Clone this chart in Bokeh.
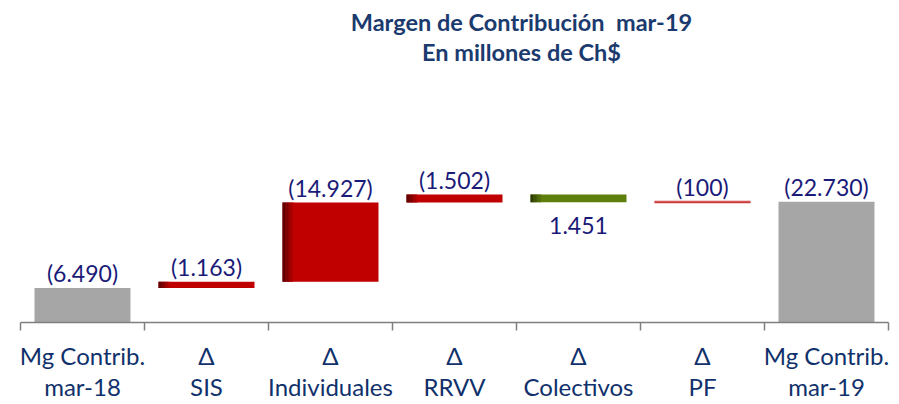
from bokeh.plotting import figure
from bokeh.models import Range1d, FixedTicker, ColumnDataSource
from bokeh.core.properties import value
from bokeh.embed import file_html
from bokeh.resources import INLINE

# ---- data ----
categories = ["Mg Contrib.\nmar-18", "Δ\nSIS", "Δ\nIndividuales", "Δ\nRRVV",
              "Δ\nColectivos", "Δ\nPF", "Mg Contrib.\nmar-19"]
kinds = ["total", "delta", "delta", "delta", "delta", "delta", "total"]
values = [6.490, 1.163, 14.927, 1.502, -1.451, 0.100, 22.730]
value_labels = ["(6.490)", "(1.163)", "(14.927)", "(1.502)", "1.451", "(100)", "(22.730)"]
title_lines = ["Margen de Contribución \u00a0mar-19", "En millones de Ch$"]

FONT = "Lato"
GRAY = "#a6a6a6"
RED = "#c00000"
GREEN = "#5f7f0c"
NAVY_VAL = "#1a1a78"
NAVY_AX = "#10316b"
TITLE_C = "#1b3a6e"

# ---- compute waterfall positions ----
n = len(categories)
xc = [i + 0.5 for i in range(n)]
bottoms, tops, colors = [], [], []
run = 0.0
for k, v in zip(kinds, values):
    if k == "total":
        b, t = 0.0, v
        run = v
        colors.append(GRAY)
    else:
        b, t = run, run + v
        run = run + v
        colors.append(RED if v > 0 else GREEN)
    bottoms.append(min(b, t))
    tops.append(max(b, t))

BW = 0.774
left = [x - BW / 2 for x in xc]
right = [x + BW / 2 for x in xc]

W, H = 899, 404
PXX = 124.0         # pixels per category
PXU = 5.31          # pixels per unit
AXIS_Y = 322
AXIS_X0 = 20
Y_END = AXIS_Y / PXU
Y_START = -(H - AXIS_Y) / PXU
X_START = -AXIS_X0 / PXX
X_END = X_START + W / PXX
p = figure(width=W, height=H, output_backend="svg", toolbar_location=None,
           x_range=Range1d(X_START, X_END), y_range=Range1d(Y_START, Y_END),
           min_border_left=0, min_border_right=0, min_border_top=0, min_border_bottom=0)
p.outline_line_color = None
p.xgrid.visible = False
p.ygrid.visible = False
p.yaxis.visible = False
p.background_fill_color = "white"
p.border_fill_color = "white"

src = ColumnDataSource(dict(left=left, right=right, bottom=bottoms, top=tops, color=colors))
p.quad(left="left", right="right", bottom="bottom", top="top", fill_color="color",
       line_color=None, source=src)

# thin PF bar drawn as line for visibility
for i, k in enumerate(kinds):
    if k == "delta" and abs(values[i]) < 0.5:
        ym = (bottoms[i] + tops[i]) / 2
        p.segment(x0=[left[i]], x1=[right[i]], y0=[ym], y1=[ym],
                  line_color="#e8a0a0", line_width=3)
        p.segment(x0=[left[i]], x1=[right[i]], y0=[ym], y1=[ym],
                  line_color="#c01818", line_width=1.2)

# left-edge shading for coloured delta bars
def shade(c, f):
    r, g, b = int(c[1:3], 16), int(c[3:5], 16), int(c[5:7], 16)
    return "#%02x%02x%02x" % (int(r * f), int(g * f), int(b * f))

steps = 8
sw = 0.011
for i, k in enumerate(kinds):
    if k == "delta" and abs(values[i]) >= 0.5:
        L, R, B, T = [], [], [], []
        cs = []
        for s in range(steps):
            L.append(left[i] + s * sw)
            R.append(left[i] + (s + 1) * sw)
            B.append(bottoms[i]); T.append(tops[i])
            cs.append(shade(colors[i], 0.42 + 0.58 * s / steps))
        p.quad(left=L, right=R, bottom=B, top=T, fill_color=cs, line_color=None)

# value labels
up_x, up_y, up_t, dn_x, dn_y, dn_t = [], [], [], [], [], []
for i, v in enumerate(values):
    if v >= 0:
        up_x.append(xc[i]); up_y.append(tops[i]); up_t.append(value_labels[i])
    else:
        dn_x.append(xc[i]); dn_y.append(bottoms[i]); dn_t.append(value_labels[i])
p.text(x=up_x, y=up_y, text=up_t, text_align="center", text_baseline="alphabetic",
       y_offset=-15, text_font=value(FONT), text_font_size="23px", text_color=NAVY_VAL)
p.text(x=dn_x, y=dn_y, text=dn_t, text_align="center", text_baseline="top",
       y_offset=15, text_font=value(FONT), text_font_size="23px", text_color=NAVY_VAL)

# title
p.text(x=[4.04, 4.04], y=[Y_END - 21.9 / PXU, Y_END - 51.9 / PXU], text=title_lines,
       text_align="center", text_baseline="alphabetic", text_font=value(FONT),
       text_font_size="23.5px", text_font_style="bold", text_color=TITLE_C)

# axis
ax = p.xaxis[0]
ax.fixed_location = 0
ax.bounds = (0, n)
ax.ticker = FixedTicker(ticks=xc, minor_ticks=list(range(n + 1)))
ax.major_label_overrides = {x: c for x, c in zip(xc, categories)}
ax.major_tick_line_color = None
ax.major_tick_out = 0
ax.major_tick_in = 0
ax.minor_tick_out = 8
ax.minor_tick_in = 0
ax.minor_tick_line_color = "#7f7f7f"
ax.minor_tick_line_width = 1.5
ax.axis_line_color = "#7f7f7f"
ax.axis_line_width = 1.5
ax.major_label_text_font = FONT
ax.major_label_text_font_size = "24px"
ax.major_label_text_color = NAVY_AX
ax.major_label_text_line_height = 1.08
ax.major_label_standoff = 10

open("out.html", "w").write(file_html(p, INLINE))
